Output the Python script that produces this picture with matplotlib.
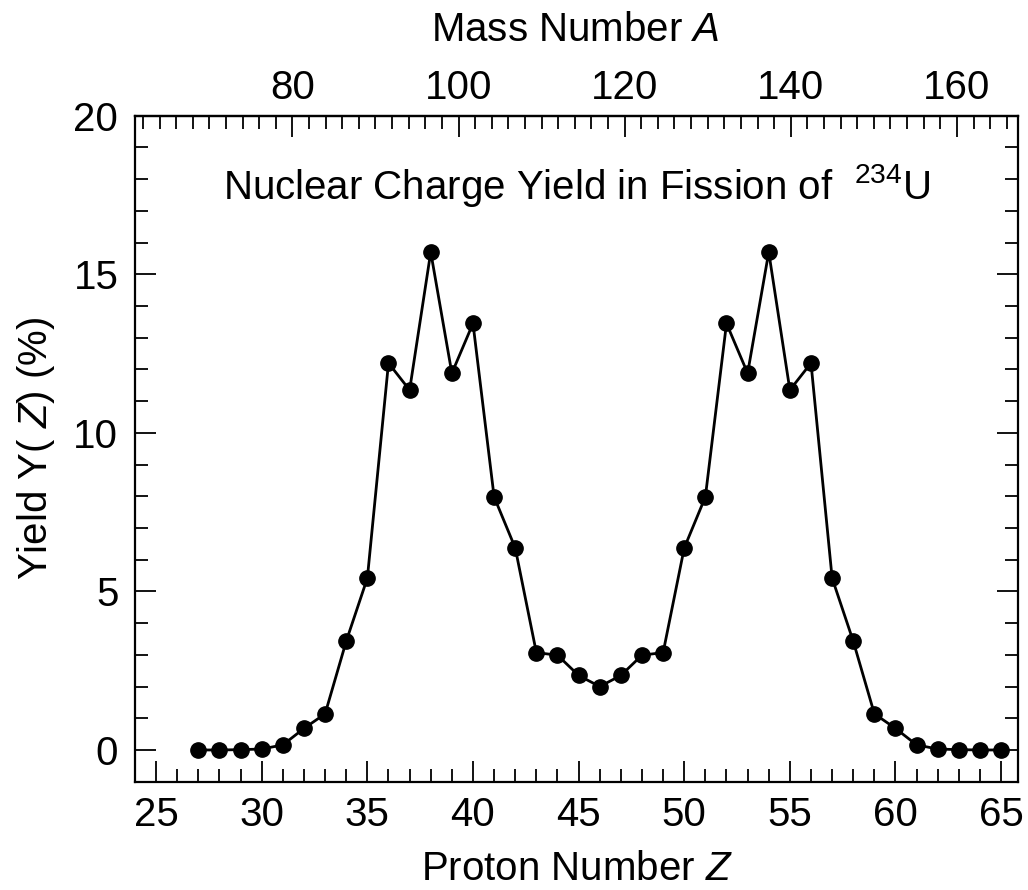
import matplotlib
matplotlib.use("Agg")
import matplotlib.pyplot as plt
import matplotlib.ticker as ticker

plt.rcParams['font.family'] = ['Liberation Sans', 'DejaVu Sans']
plt.rcParams['mathtext.fontset'] = 'custom'
plt.rcParams['mathtext.rm'] = 'Liberation Sans'
plt.rcParams['mathtext.it'] = 'Liberation Sans:italic'

# proton number Z and charge yield in %
z_values = list(range(27, 66))
yield_values = [
    0.0, 0.0, 0.01, 0.03, 0.16, 0.68, 1.14, 3.43, 5.42, 12.2,
    11.35, 15.7, 11.88, 13.45, 7.98, 6.37, 3.07, 2.99, 2.35, 2.0,
    2.35, 2.99, 3.07, 6.37, 7.98, 13.45, 11.88, 15.7, 11.35, 12.2,
    5.42, 3.43, 1.14, 0.68, 0.16, 0.03, 0.01, 0.0, 0.0,
]

z_ticks = [25, 30, 35, 40, 45, 50, 55, 60, 65]
y_ticks = [0, 5, 10, 15, 20]
a_ticks = [80, 100, 120, 140, 160]

A_PER_Z = 234 / 92


def z2a(z):
    return z * A_PER_Z


def a2z(a):
    return a / A_PER_Z


FS = 29

fig = plt.figure(figsize=(10.28, 8.90), dpi=100)
ax = fig.add_axes([0.1313, 0.1217, 0.8590, 0.7483])

ax.plot(z_values, yield_values, color='black', linewidth=2.0,
        marker='o', markersize=11, zorder=3)

ax.set_xlim(24, 65.8)
ax.set_ylim(-1, 20)
ax.set_xticks(z_ticks)
ax.set_yticks(y_ticks)
ax.xaxis.set_minor_locator(ticker.MultipleLocator(1))
ax.yaxis.set_minor_locator(ticker.MultipleLocator(1))

ax.tick_params(which='both', direction='in', width=1.3, labelsize=FS)
ax.tick_params(which='major', length=15)
ax.tick_params(which='minor', length=9.5)
ax.tick_params(axis='x', which='both', top=False, pad=10)
ax.tick_params(axis='y', which='both', right=True, pad=12)

for sp in ax.spines.values():
    sp.set_linewidth(1.6)

sec = ax.secondary_xaxis('top', functions=(z2a, a2z))
sec.set_xticks(a_ticks)
sec.xaxis.set_minor_locator(ticker.MultipleLocator(2))
sec.tick_params(which='both', direction='in', width=1.3, labelsize=FS, pad=6)
sec.tick_params(which='major', length=15)
sec.tick_params(which='minor', length=9.5)
sec.spines['top'].set_linewidth(1.6)

# top axis label placed by hand (labelpad on secondary axis is unreliable)
fig.text(0.56, 0.966, "Mass Number $A$", fontsize=FS, ha='center', va='center')

ax.set_xlabel("Proton Number $Z$", fontsize=FS, labelpad=12)
ax.set_ylabel("Yield Y( $Z$) (%)", fontsize=FS, labelpad=12)

ax.text(0.5, 0.895, "Nuclear Charge Yield in Fission of  $^{234}$U",
        transform=ax.transAxes, ha='center', va='center', fontsize=FS)

fig.savefig("out.png", dpi=100)
